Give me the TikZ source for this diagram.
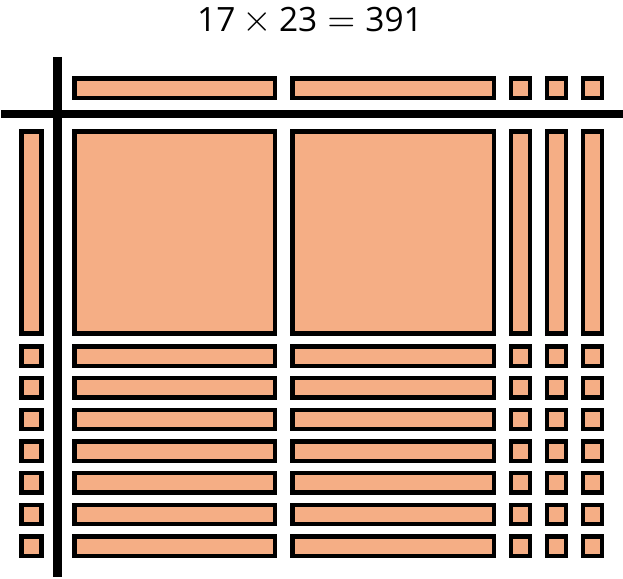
\documentclass[tikz,border=0pt]{standalone}
\usepackage{fontspec}
\usepackage{graphicx}
\setmainfont{Open Sans}
\begin{document}
\begin{tikzpicture}[x=1pt,y=-1pt]
\definecolor{color1}{RGB}{245,174,133}
\useasboundingbox (0,0) rectangle (623,578);
\coordinate[] (V1) at (57.5,57);
\coordinate[] (V2) at (57.5,577.3);
\coordinate[] (H1) at (1,114.2);
\coordinate[] (H2) at (623,114.2);
\node[anchor=base] (title) at (310,32) {\fontsize{33.5}{40}\selectfont 17\hspace{7pt}\scalebox{3.8}{\normalsize$\times$}\hspace{7pt}23\hspace{10pt}\scalebox{3.6}{\normalsize$=$}\hspace{10pt}391};
% top row
\draw[line width=4.4pt,fill=color1] (74.5,78.5) rectangle (275,98);
\draw[line width=4.4pt,fill=color1] (292.5,78.5) rectangle (494,98);
\draw[line width=4.4pt,fill=color1] (511,78.5) rectangle (530,98);
\draw[line width=4.4pt,fill=color1] (547,78.5) rectangle (566,98);
\draw[line width=4.4pt,fill=color1] (583,78.5) rectangle (602,98);
% tens row
\draw[line width=4.4pt,fill=color1] (21.5,131.5) rectangle (41.5,333.5);
\draw[line width=4.4pt,fill=color1] (74.5,131.5) rectangle (275,333.5);
\draw[line width=4.4pt,fill=color1] (292.5,131.5) rectangle (494,333.5);
\draw[line width=4.4pt,fill=color1] (511,131.5) rectangle (530,333.5);
\draw[line width=4.4pt,fill=color1] (547,131.5) rectangle (566,333.5);
\draw[line width=4.4pt,fill=color1] (583,131.5) rectangle (602,333.5);
% ones rows
\draw[line width=4.4pt,fill=color1] (21.5,346.3) rectangle (41.5,365.7);
\draw[line width=4.4pt,fill=color1] (74.5,346.3) rectangle (275,365.7);
\draw[line width=4.4pt,fill=color1] (292.5,346.3) rectangle (494,365.7);
\draw[line width=4.4pt,fill=color1] (511,346.3) rectangle (530,365.7);
\draw[line width=4.4pt,fill=color1] (547,346.3) rectangle (566,365.7);
\draw[line width=4.4pt,fill=color1] (583,346.3) rectangle (602,365.7);
\draw[line width=4.4pt,fill=color1] (21.5,378) rectangle (41.5,397.3);
\draw[line width=4.4pt,fill=color1] (74.5,378) rectangle (275,397.3);
\draw[line width=4.4pt,fill=color1] (292.5,378) rectangle (494,397.3);
\draw[line width=4.4pt,fill=color1] (511,378) rectangle (530,397.3);
\draw[line width=4.4pt,fill=color1] (547,378) rectangle (566,397.3);
\draw[line width=4.4pt,fill=color1] (583,378) rectangle (602,397.3);
\draw[line width=4.4pt,fill=color1] (21.5,409.7) rectangle (41.5,429);
\draw[line width=4.4pt,fill=color1] (74.5,409.7) rectangle (275,429);
\draw[line width=4.4pt,fill=color1] (292.5,409.7) rectangle (494,429);
\draw[line width=4.4pt,fill=color1] (511,409.7) rectangle (530,429);
\draw[line width=4.4pt,fill=color1] (547,409.7) rectangle (566,429);
\draw[line width=4.4pt,fill=color1] (583,409.7) rectangle (602,429);
\draw[line width=4.4pt,fill=color1] (21.5,441.3) rectangle (41.5,460.7);
\draw[line width=4.4pt,fill=color1] (74.5,441.3) rectangle (275,460.7);
\draw[line width=4.4pt,fill=color1] (292.5,441.3) rectangle (494,460.7);
\draw[line width=4.4pt,fill=color1] (511,441.3) rectangle (530,460.7);
\draw[line width=4.4pt,fill=color1] (547,441.3) rectangle (566,460.7);
\draw[line width=4.4pt,fill=color1] (583,441.3) rectangle (602,460.7);
\draw[line width=4.4pt,fill=color1] (21.5,473) rectangle (41.5,492.3);
\draw[line width=4.4pt,fill=color1] (74.5,473) rectangle (275,492.3);
\draw[line width=4.4pt,fill=color1] (292.5,473) rectangle (494,492.3);
\draw[line width=4.4pt,fill=color1] (511,473) rectangle (530,492.3);
\draw[line width=4.4pt,fill=color1] (547,473) rectangle (566,492.3);
\draw[line width=4.4pt,fill=color1] (583,473) rectangle (602,492.3);
\draw[line width=4.4pt,fill=color1] (21.5,504.7) rectangle (41.5,524);
\draw[line width=4.4pt,fill=color1] (74.5,504.7) rectangle (275,524);
\draw[line width=4.4pt,fill=color1] (292.5,504.7) rectangle (494,524);
\draw[line width=4.4pt,fill=color1] (511,504.7) rectangle (530,524);
\draw[line width=4.4pt,fill=color1] (547,504.7) rectangle (566,524);
\draw[line width=4.4pt,fill=color1] (583,504.7) rectangle (602,524);
\draw[line width=4.4pt,fill=color1] (21.5,536.3) rectangle (41.5,555.7);
\draw[line width=4.4pt,fill=color1] (74.5,536.3) rectangle (275,555.7);
\draw[line width=4.4pt,fill=color1] (292.5,536.3) rectangle (494,555.7);
\draw[line width=4.4pt,fill=color1] (511,536.3) rectangle (530,555.7);
\draw[line width=4.4pt,fill=color1] (547,536.3) rectangle (566,555.7);
\draw[line width=4.4pt,fill=color1] (583,536.3) rectangle (602,555.7);
% axes
\draw[line width=8.4pt] (V1)--(V2);
\draw[line width=8.4pt] (H1)--(H2);

\end{tikzpicture}
\end{document}
